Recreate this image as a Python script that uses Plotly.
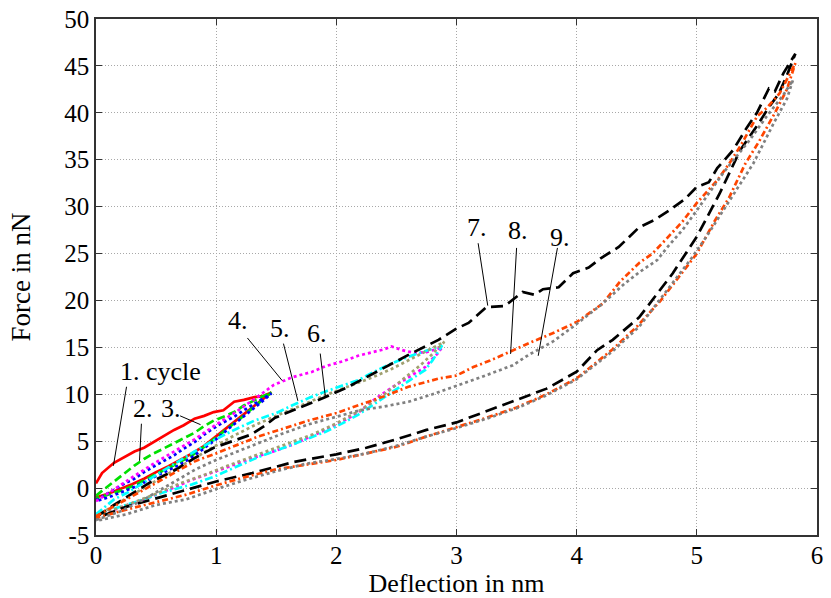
import plotly.graph_objects as go

# ---------------- data (deflection in nm, force in nN) ----------------
cycle1_x = [0, 0.05, 0.15, 0.25, 0.32, 0.4, 0.48, 0.56, 0.65, 0.73, 0.82, 0.9, 0.98, 1.06, 1.15, 1.23, 1.32, 1.39, 1.46,
            1.38, 1.3, 1.2, 1.1, 1.0, 0.9, 0.8, 0.7, 0.6, 0.5, 0.4, 0.3, 0.2, 0.1, 0]
cycle1_y = [0.5, 1.6, 2.7, 3.4, 3.9, 4.3, 4.9, 5.5, 6.2, 6.7, 7.4, 7.7, 8.1, 8.3, 9.2, 9.4, 9.7, 9.8, 10.2,
            9.4, 8.6, 7.5, 6.5, 5.5, 4.5, 3.7, 3.0, 2.3, 1.7, 1.0, 0.4, -0.1, -0.6, -1.0]

cycle2_x = [0, 0.08, 0.15, 0.24, 0.32, 0.4, 0.48, 0.56, 0.65, 0.73, 0.82, 0.9, 0.98, 1.06, 1.15, 1.23, 1.32, 1.39, 1.46,
            1.38, 1.3, 1.2, 1.1, 1.0, 0.9, 0.8, 0.7, 0.6, 0.5, 0.4, 0.3, 0.2, 0.1, 0]
cycle2_y = [-0.8, 0.0, 0.8, 1.7, 2.4, 3.1, 3.7, 4.2, 4.8, 5.3, 5.9, 6.6, 7.2, 7.6, 8.1, 8.8, 9.4, 9.8, 10.2,
            9.3, 8.5, 7.4, 6.4, 5.3, 4.4, 3.5, 2.8, 2.1, 1.5, 0.8, 0.2, -0.3, -0.7, -1.1]

cycle3_x = [0, 0.08, 0.15, 0.24, 0.32, 0.4, 0.48, 0.56, 0.65, 0.73, 0.82, 0.9, 0.98, 1.06, 1.15, 1.23, 1.32, 1.39, 1.46,
            1.38, 1.3, 1.2, 1.1, 1.0, 0.9, 0.8, 0.7, 0.6, 0.5, 0.4, 0.3, 0.2, 0.1, 0]
cycle3_y = [-1.3, -0.7, -0.2, 0.5, 1.0, 1.7, 2.3, 2.9, 3.5, 4.2, 4.9, 5.7, 6.4, 7.0, 7.6, 8.3, 9.0, 9.6, 10.1,
            9.2, 8.4, 7.3, 6.3, 5.2, 4.2, 3.3, 2.5, 1.9, 1.3, 0.6, 0.0, -0.5, -1.0, -1.4]

cycle4_x = [0, 0.15, 0.32, 0.48, 0.65, 0.82, 0.98, 1.15, 1.32, 1.48, 1.63, 1.8, 1.91, 2.05, 2.18, 2.3, 2.4, 2.46,
            2.55, 2.65, 2.75, 2.83, 2.88,
            2.84, 2.8, 2.74, 2.6, 2.46, 2.3, 2.18, 2.05, 1.91, 1.77, 1.63, 1.5, 1.35, 1.15, 0.98, 0.8, 0.6, 0.4, 0.2, 0]
cycle4_y = [-1.4, -0.1, 1.3, 2.6, 3.9, 5.2, 6.6, 8.0, 9.5, 11.0, 11.8, 12.4, 13.0, 13.5, 14.1, 14.5, 14.8, 15.1,
            14.7, 14.4, 14.5, 14.8, 15.0,
            14.3, 13.8, 12.9, 11.8, 10.7, 9.3, 8.0, 7.1, 6.2, 5.4, 4.6, 4.0, 3.4, 2.5, 1.7, 0.9, -0.2, -1.2, -2.1, -2.9]

cycle5_x = [0, 0.15, 0.26, 0.45, 0.67, 0.82, 0.98, 1.15, 1.32, 1.5, 1.63, 1.77, 1.91, 2.05, 2.18, 2.3, 2.46, 2.6,
            2.75, 2.88,
            2.84, 2.8, 2.74, 2.6, 2.46, 2.3, 2.18, 2.05, 1.91, 1.77, 1.63, 1.5, 1.35, 1.15, 0.98, 0.8, 0.55, 0.35, 0.15, 0]
cycle5_y = [-2.8, -1.2, -0.5, 1.0, 2.8, 3.9, 5.1, 6.2, 7.2, 8.0, 8.8, 9.6, 10.3, 10.9, 11.5, 12.3, 13.3, 14.0,
            14.6, 15.2,
            14.4, 13.6, 12.6, 11.4, 10.2, 8.9, 7.8, 6.9, 6.0, 5.3, 4.6, 4.0, 3.3, 2.2, 1.2, 0.4, -0.5, -1.4, -2.2, -2.9]

cycle6_x = [0, 0.2, 0.45, 0.67, 0.98, 1.15, 1.32, 1.5, 1.63, 1.77, 1.91, 2.05, 2.18, 2.3, 2.46, 2.6, 2.75, 2.9,
            2.85, 2.8, 2.7, 2.55, 2.4, 2.2, 2.0, 1.8, 1.6, 1.35, 1.1, 0.9, 0.7, 0.5, 0.3, 0.1, 0]
cycle6_y = [-3.0, -1.5, 0.4, 2.1, 4.4, 5.6, 6.7, 7.7, 8.4, 9.2, 9.9, 10.6, 11.2, 11.8, 12.7, 13.6, 14.6, 15.6,
            15.0, 14.3, 13.1, 11.5, 10.0, 8.3, 6.9, 5.7, 4.8, 3.6, 2.4, 1.4, 0.5, -0.6, -1.6, -2.5, -3.0]

cycle7_x = [0, 0.15, 0.3, 0.45, 0.67, 0.82, 0.98, 1.15, 1.29, 1.4, 1.49, 1.7, 1.91, 2.1, 2.33, 2.6, 2.85, 3.0, 3.1,
            3.25, 3.4, 3.55, 3.65, 3.72, 3.85, 3.97, 4.1, 4.2, 4.35, 4.52, 4.65, 4.77, 4.9, 5.0, 5.1, 5.17, 5.3,
            5.42, 5.5, 5.6, 5.65, 5.72, 5.82,
            5.75, 5.68, 5.6, 5.5, 5.36, 5.19, 5.0, 4.8, 4.52, 4.3, 4.17, 4.0, 3.75, 3.5, 3.25, 3.0, 2.75, 2.5,
            2.25, 2.0, 1.65, 1.3, 1.0, 0.75, 0.5, 0.25, 0]
cycle7_y = [-3.1, -1.8, -0.6, 0.6, 2.0, 3.2, 4.3, 5.1, 5.7, 6.6, 7.5, 8.6, 9.7, 10.8, 12.4, 14.2, 15.8, 17.0, 17.6,
            19.3, 19.4, 20.9, 20.6, 21.2, 21.4, 22.9, 23.5, 24.5, 25.7, 27.8, 28.6, 29.6, 30.8, 32.1, 32.6, 34.1, 36.0,
            38.5, 40.0, 42.6, 42.3, 44.2, 46.3,
            44.0, 42.0, 40.6, 38.6, 36.0, 31.4, 26.8, 22.9, 18.2, 15.8, 14.7, 12.4, 10.6, 9.4, 8.2, 7.0, 6.2, 5.2,
            4.3, 3.6, 2.8, 1.6, 0.7, -0.2, -1.1, -2.0, -3.2]

cycle8_x = [0, 0.2, 0.4, 0.6, 0.83, 1.0, 1.2, 1.35, 1.55, 1.77, 2.0, 2.18, 2.4, 2.6, 2.86, 3.0, 3.14, 3.28, 3.47,
            3.63, 3.8, 4.0, 4.22, 4.36, 4.52, 4.63, 4.72, 4.88, 5.0, 5.17, 5.27, 5.36, 5.5, 5.58, 5.69, 5.82,
            5.75, 5.65, 5.52, 5.4, 5.27, 5.15, 5.0, 4.85, 4.7, 4.5, 4.3, 4.0, 3.75, 3.5, 3.25, 3.0, 2.75, 2.5,
            2.25, 2.0, 1.75, 1.5, 1.25, 1.0, 0.75, 0.5, 0.25, 0]
cycle8_y = [-3.0, -1.6, -0.2, 1.2, 2.9, 3.7, 4.7, 5.5, 6.3, 7.2, 8.0, 8.8, 9.8, 10.8, 11.7, 12.0, 12.9, 13.6, 14.7,
            15.6, 16.5, 17.7, 19.7, 22.0, 24.0, 25.0, 26.2, 28.4, 30.4, 32.8, 34.6, 36.4, 39.6, 40.5, 42.1, 45.3,
            42.5, 40.0, 37.0, 34.5, 31.0, 28.5, 25.0, 22.5, 20.0, 17.2, 14.8, 11.7, 10.0, 8.6, 7.5, 6.5, 5.5, 4.4,
            3.7, 3.0, 2.5, 2.0, 1.2, 0.3, -0.7, -1.5, -2.3, -3.2]

cycle9_x = [0, 0.2, 0.4, 0.6, 0.83, 1.0, 1.2, 1.35, 1.55, 1.77, 2.0, 2.2, 2.4, 2.6, 2.8, 3.0, 3.2, 3.47, 3.6, 3.8,
            3.97, 4.2, 4.4, 4.52, 4.67, 4.75, 4.88, 5.0, 5.22, 5.44, 5.58, 5.72, 5.8,
            5.75, 5.64, 5.47, 5.33, 5.2, 5.08, 4.95, 4.8, 4.65, 4.52, 4.3, 4.0, 3.75, 3.5, 3.25, 3.0, 2.75, 2.5,
            2.25, 2.0, 1.75, 1.5, 1.25, 1.0, 0.75, 0.5, 0.25, 0]
cycle9_y = [-3.4, -2.5, -1.2, 0.3, 2.0, 3.0, 4.0, 4.8, 5.8, 6.8, 7.6, 8.3, 8.7, 9.2, 10.0, 10.9, 11.8, 13.1, 14.2, 15.6,
            17.2, 19.5, 21.8, 23.0, 24.3, 25.6, 27.5, 29.6, 33.6, 37.1, 39.6, 41.9, 43.5,
            41.5, 38.9, 34.6, 31.8, 29.3, 26.8, 24.4, 21.9, 19.4, 17.2, 14.6, 11.6, 9.9, 8.5, 7.4, 6.4, 5.5, 4.5,
            3.7, 3.1, 2.6, 1.8, 0.9, -0.1, -1.2, -1.8, -2.8, -3.5]

# labels with leader lines (data coordinates)
label_text = ["1. cycle", "2.", "3.", "4.", "5.", "6.", "7.", "8.", "9."]
label_x = [0.536, 0.387, 0.62, 1.185, 1.53, 1.84, 3.17, 3.51, 3.86]
label_y = [12.4, 8.46, 8.46, 17.9, 17.0, 16.5, 27.8, 27.5, 26.7]
lead_x0 = [0.254, 0.378, 0.70, 1.26, 1.56, 1.866, 3.18, 3.50, 3.84]
lead_y0 = [10.8, 6.86, 7.7, 16.0, 15.4, 14.34, 26.1, 25.6, 25.6]
lead_x1 = [0.145, 0.362, 0.87, 1.55, 1.68, 1.91, 3.26, 3.45, 3.68]
lead_y1 = [2.38, 2.91, 6.76, 11.45, 9.3, 9.6, 19.45, 14.3, 14.1]

x_ticks = [0, 1, 2, 3, 4, 5, 6]
y_ticks = [-5, 0, 5, 10, 15, 20, 25, 30, 35, 40, 45, 50]

# ---------------- styling ----------------
series = [
    (cycle1_x, cycle1_y, "#FF0000", "solid"),
    (cycle2_x, cycle2_y, "#00E000", "8px,4px"),
    (cycle3_x, cycle3_y, "#0000FF", "3px,3px"),
    (cycle4_x, cycle4_y, "#FF00FF", "3px,3px"),
    (cycle5_x, cycle5_y, "#00FFFF", "8px,3px,2px,3px"),
    (cycle6_x, cycle6_y, "#A0A070", "3px,3px"),
    (cycle7_x, cycle7_y, "#000000", "12px,6px"),
    (cycle8_x, cycle8_y, "#FF4500", "6px,3px,2px,3px"),
    (cycle9_x, cycle9_y, "#808080", "3px,3px"),
]

FONT = "Liberation Serif, Times New Roman, serif"

fig = go.Figure()
for i, (xs, ys, col, dash) in enumerate(series):
    fig.add_trace(go.Scatter(x=xs, y=ys, mode="lines", name=f"{i+1}. cycle",
                             line=dict(color=col, width=2.7, dash=dash)))

for t, tx, ty, x0, y0, x1, y1 in zip(label_text, label_x, label_y, lead_x0, lead_y0, lead_x1, lead_y1):
    fig.add_shape(type="line", xref="x", yref="y", x0=x0, y0=y0, x1=x1, y1=y1,
                  line=dict(color="black", width=1))
    fig.add_annotation(x=tx, y=ty, xref="x", yref="y", text=t, showarrow=False,
                       xanchor="center", yanchor="middle",
                       font=dict(family=FONT, size=26, color="black"))

axis_common = dict(
    showline=True, linecolor="#333333", linewidth=1.5, mirror="ticks",
    ticks="inside", ticklen=6, tickcolor="#333333", tickwidth=1,
    showgrid=True, gridcolor="#a8a8a8", griddash="1px,2px", gridwidth=1,
    zeroline=False, automargin=False,
    tickfont=dict(family=FONT, size=25, color="black"),
)

fig.update_xaxes(range=[0, 6], tickvals=x_ticks, ticktext=[str(v) for v in x_ticks],
                 ticklabelstandoff=-3,
                 title=dict(text="Deflection in nm", font=dict(family=FONT, size=26, color="black"), standoff=1),
                 **axis_common)
fig.update_yaxes(range=[-5, 50], tickvals=y_ticks, ticktext=[str(v) for v in y_ticks],
                 title=dict(text="Force in nN", font=dict(family=FONT, size=27, color="black"), standoff=26),
                 **axis_common)

fig.update_layout(
    width=831, height=598,
    margin=dict(l=96, r=14, t=19, b=63),
    plot_bgcolor="white", paper_bgcolor="white",
    showlegend=False,
)

fig.write_html("out.html")
